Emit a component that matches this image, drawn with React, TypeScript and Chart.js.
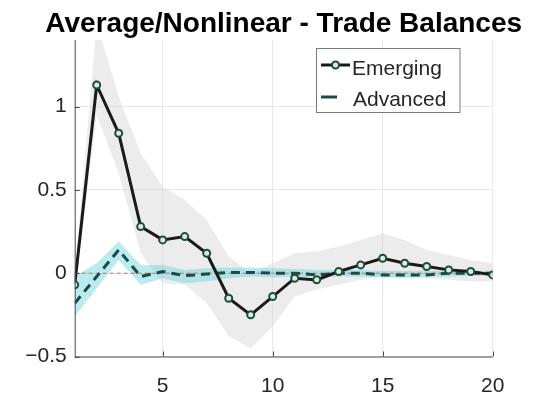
import React, { useEffect, useRef } from "react";
import { Chart, registerables } from "chart.js";

Chart.register(...registerables);

// Horizon (periods after the shock)
const periods = [1, 2, 3, 4, 5, 6, 7, 8, 9, 10, 11, 12, 13, 14, 15, 16, 17, 18, 19, 20];

// Emerging economies: response and confidence band
const emerging = [-0.07, 1.13, 0.84, 0.28, 0.2, 0.22, 0.12, -0.15, -0.25, -0.14, -0.03, -0.04, 0.01, 0.05, 0.09, 0.06, 0.04, 0.02, 0.01, -0.01];
const emergingUpper = [-0.02, 1.5, 1.06, 0.72, 0.52, 0.44, 0.32, 0.1, 0.0, 0.06, 0.12, 0.13, 0.16, 0.2, 0.24, 0.2, 0.14, 0.11, 0.08, 0.06];
const emergingLower = [-0.12, 0.95, 0.6, 0.12, -0.06, -0.07, -0.18, -0.38, -0.45, -0.32, -0.14, -0.1, -0.07, -0.04, -0.02, -0.03, -0.03, -0.04, -0.05, -0.05];

// Advanced economies: response and confidence band
const advanced = [-0.18, -0.02, 0.14, -0.02, 0.01, -0.015, -0.005, 0.005, 0.005, 0.0, 0.0, -0.01, 0.0, 0.0, -0.01, -0.01, -0.01, 0.0, 0.0, 0.0];
const advancedUpper = [-0.02, 0.06, 0.19, 0.05, 0.05, 0.02, 0.03, 0.035, 0.035, 0.03, 0.025, 0.02, 0.02, 0.02, 0.015, 0.015, 0.015, 0.015, 0.015, 0.015];
const advancedLower = [-0.26, -0.09, 0.08, -0.07, -0.03, -0.06, -0.05, -0.03, -0.02, -0.025, -0.02, -0.025, -0.02, -0.02, -0.025, -0.025, -0.02, -0.02, -0.015, -0.015];

const xTicks = [5, 10, 15, 20];
const yTicks = [-0.5, 0, 0.5, 1];

const TITLE = "Average/Nonlinear - Trade Balances";
const FONT = "'Liberation Sans', Arial, Helvetica, sans-serif";
const TEXT = "#262626";
const EM_LINE = "#1a1a1a";
const EM_MARK = "#1e4d3c";
const EM_FILL = "#dfe9e4";
const ADV_LINE = "#1d4a4a";

const pts = (ys: number[]) => periods.map((x, i) => ({ x, y: ys[i] }));

const decorPlugin = {
  id: "decor",
  afterDraw(chart: any) {
    const { ctx, chartArea } = chart;
    const { left, right, top, bottom } = chartArea;
    const xs = chart.scales.x;
    const ys = chart.scales.y;
    ctx.save();

    // axis lines
    ctx.strokeStyle = "#4a4a4a";
    ctx.lineWidth = 1;
    ctx.beginPath();
    ctx.moveTo(left + 0.5, top);
    ctx.lineTo(left + 0.5, bottom + 0.5);
    ctx.lineTo(right, bottom + 0.5);
    ctx.stroke();

    // inward tick marks
    ctx.beginPath();
    xTicks.forEach((v) => {
      const px = Math.round(xs.getPixelForValue(v)) + 0.5;
      ctx.moveTo(px, bottom);
      ctx.lineTo(px, bottom - 5);
    });
    yTicks.forEach((v) => {
      const py = Math.round(ys.getPixelForValue(v)) + 0.5;
      ctx.moveTo(left, py);
      ctx.lineTo(left + 5, py);
    });
    ctx.stroke();

    // title
    ctx.fillStyle = "#000";
    ctx.font = `bold 28px ${FONT}`;
    ctx.textAlign = "center";
    ctx.textBaseline = "alphabetic";
    ctx.fillText(TITLE, (left + right) / 2, 32);

    // legend
    const bx = 316.5, by = 48.5, bw = 143.5, bh = 64;
    ctx.fillStyle = "#fff";
    ctx.fillRect(bx, by, bw, bh);
    ctx.strokeStyle = "#7a7a7a";
    ctx.lineWidth = 1;
    ctx.strokeRect(bx, by, bw, bh);

    ctx.strokeStyle = EM_LINE;
    ctx.lineWidth = 3;
    ctx.beginPath();
    ctx.moveTo(321, 65);
    ctx.lineTo(350, 65);
    ctx.stroke();
    ctx.beginPath();
    ctx.arc(335.5, 65, 3.5, 0, Math.PI * 2);
    ctx.fillStyle = EM_FILL;
    ctx.fill();
    ctx.strokeStyle = EM_MARK;
    ctx.lineWidth = 2;
    ctx.stroke();

    ctx.strokeStyle = ADV_LINE;
    ctx.lineWidth = 3;
    ctx.beginPath();
    ctx.moveTo(321, 97);
    ctx.lineTo(337, 97);
    ctx.stroke();

    ctx.fillStyle = TEXT;
    ctx.font = `21px ${FONT}`;
    ctx.textAlign = "left";
    ctx.fillText("Emerging", 352, 75);
    ctx.fillText("Advanced", 353, 106);

    ctx.restore();
  },
};

export default function App() {
  const ref = useRef<HTMLCanvasElement | null>(null);

  useEffect(() => {
    if (!ref.current) return;
    const chart = new Chart(ref.current, {
      type: "line",
      data: {
        datasets: [
          {
            label: "Emerging",
            data: pts(emerging),
            borderColor: EM_LINE,
            borderWidth: 3,
            pointRadius: 3.5,
            pointBorderWidth: 2,
            pointBorderColor: EM_MARK,
            pointBackgroundColor: EM_FILL,
            fill: false,
            order: 1,
          },
          {
            label: "Advanced",
            data: pts(advanced),
            borderColor: ADV_LINE,
            borderWidth: 3,
            borderDash: [9, 6],
            pointRadius: 0,
            fill: false,
            order: 2,
          },
          {
            label: "zero",
            data: [
              { x: periods[0], y: 0 },
              { x: periods[periods.length - 1], y: 0 },
            ],
            borderColor: "#e8694a",
            borderWidth: 1,
            borderDash: [4, 3],
            pointRadius: 0,
            fill: false,
            order: 3,
          },
          {
            label: "emLower",
            data: pts(emergingLower),
            borderWidth: 0,
            pointRadius: 0,
            fill: false,
            order: 10,
          },
          {
            label: "emUpper",
            data: pts(emergingUpper),
            borderWidth: 0,
            pointRadius: 0,
            fill: "-1",
            backgroundColor: "rgba(212,210,210,0.42)",
            order: 10,
          },
          {
            label: "advLower",
            data: pts(advancedLower),
            borderWidth: 0,
            pointRadius: 0,
            fill: false,
            order: 8,
          },
          {
            label: "advUpper",
            data: pts(advancedUpper),
            borderWidth: 0,
            pointRadius: 0,
            fill: "-1",
            backgroundColor: "rgba(100,210,220,0.45)",
            order: 8,
          },
        ],
      },
      options: {
        animation: false,
        responsive: false,
        events: [],
        layout: { padding: { top: 40, right: 52.3, left: 0, bottom: 0 } },
        plugins: {
          legend: { display: false },
          title: { display: false },
          tooltip: { enabled: false },
          filler: { drawTime: "beforeDatasetsDraw" },
        },
        scales: {
          x: {
            type: "linear",
            min: 1,
            max: 20,
            afterBuildTicks: (s: any) => {
              s.ticks = xTicks.map((v) => ({ value: v }));
            },
            afterFit: (s: any) => {
              s.height = 40.5;
            },
            grid: { color: "#e8e8e8", drawTicks: false },
            border: { display: false },
            ticks: {
              color: TEXT,
              font: { family: FONT, size: 21 },
              padding: 17,
              maxRotation: 0,
              callback: (v: any) => String(v),
            },
          },
          y: {
            type: "linear",
            min: -0.5,
            max: 1.4,
            afterBuildTicks: (s: any) => {
              s.ticks = yTicks.map((v) => ({ value: v }));
            },
            afterFit: (s: any) => {
              s.width = 74.7;
            },
            grid: { color: "#e8e8e8", drawTicks: false },
            border: { display: false },
            ticks: {
              color: TEXT,
              font: { family: FONT, size: 21 },
              padding: 8,
              callback: (v: any) => (v < 0 ? "\u2212" + Math.abs(v) : String(v)),
            },
          },
        },
      },
      plugins: [decorPlugin],
    } as any);
    return () => chart.destroy();
  }, []);

  return (
    <div style={{ position: "fixed", left: 0, top: 0, width: 545, height: 397, background: "#fff" }}>
      <canvas ref={ref} width={545} height={397} style={{ display: "block" }} />
    </div>
  );
}
